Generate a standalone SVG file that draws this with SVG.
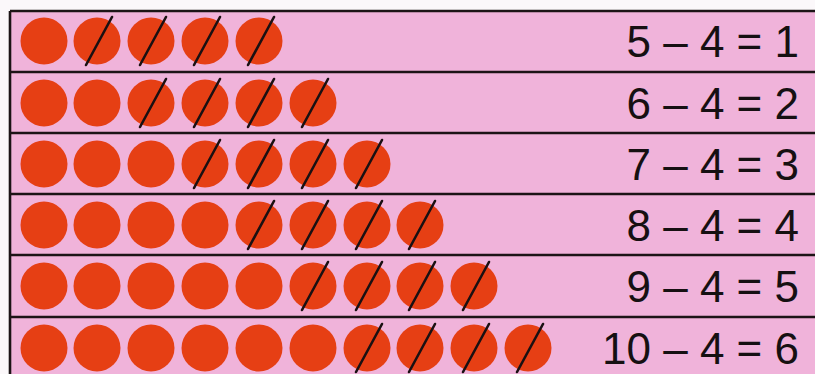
<svg xmlns="http://www.w3.org/2000/svg" width="815" height="374" viewBox="0 0 815 374">
<style>
.bg{fill:#f0b3da}
.rule{stroke:#1c1416;stroke-width:2.6;fill:none}
.dot{fill:#e63f14}
.slash{stroke:#1a1012;stroke-width:2.6;stroke-linecap:round}
.eq{font-family:"Liberation Sans",Arial,sans-serif;font-size:44px;fill:#161012;text-anchor:end}
</style>
<defs>
<circle id="c" r="23.5" class="dot"/>
<g id="s"><circle r="23.5" class="dot"/><line x1="-11" y1="24" x2="15" y2="-24" class="slash"/></g>
</defs>
<rect width="815" height="374" fill="#fbf8fa"/>
<rect x="10" y="11" width="805" height="363" class="bg"/>
<g id="rules">
<path class="rule" d="M10 11H815M10 72H815M10 133H815M10 194H815M10 255H815M10 317H815M10 11V374"/>
</g>
<g id="row1" transform="translate(0,41)">
<use href="#c" x="44"/><use href="#s" x="97"/><use href="#s" x="151"/><use href="#s" x="205"/><use href="#s" x="259"/>
<text class="eq" x="799" y="16">5 – 4 = 1</text>
</g>
<g id="row2" transform="translate(0,103)">
<use href="#c" x="44"/><use href="#c" x="97"/><use href="#s" x="151"/><use href="#s" x="205"/><use href="#s" x="259"/><use href="#s" x="313"/>
<text class="eq" x="799" y="16">6 – 4 = 2</text>
</g>
<g id="row3" transform="translate(0,164)">
<use href="#c" x="44"/><use href="#c" x="97"/><use href="#c" x="151"/><use href="#s" x="205"/><use href="#s" x="259"/><use href="#s" x="313"/><use href="#s" x="367"/>
<text class="eq" x="799" y="16">7 – 4 = 3</text>
</g>
<g id="row4" transform="translate(0,225)">
<use href="#c" x="44"/><use href="#c" x="97"/><use href="#c" x="151"/><use href="#c" x="205"/><use href="#s" x="259"/><use href="#s" x="313"/><use href="#s" x="367"/><use href="#s" x="420"/>
<text class="eq" x="799" y="16">8 – 4 = 4</text>
</g>
<g id="row5" transform="translate(0,286)">
<use href="#c" x="44"/><use href="#c" x="97"/><use href="#c" x="151"/><use href="#c" x="205"/><use href="#c" x="259"/><use href="#s" x="313"/><use href="#s" x="367"/><use href="#s" x="420"/><use href="#s" x="474"/>
<text class="eq" x="799" y="16">9 – 4 = 5</text>
</g>
<g id="row6" transform="translate(0,348)">
<use href="#c" x="44"/><use href="#c" x="97"/><use href="#c" x="151"/><use href="#c" x="205"/><use href="#c" x="259"/><use href="#c" x="313"/><use href="#s" x="367"/><use href="#s" x="420"/><use href="#s" x="474"/><use href="#s" x="528"/>
<text class="eq" x="799" y="16">10 – 4 = 6</text>
</g>
</svg>
